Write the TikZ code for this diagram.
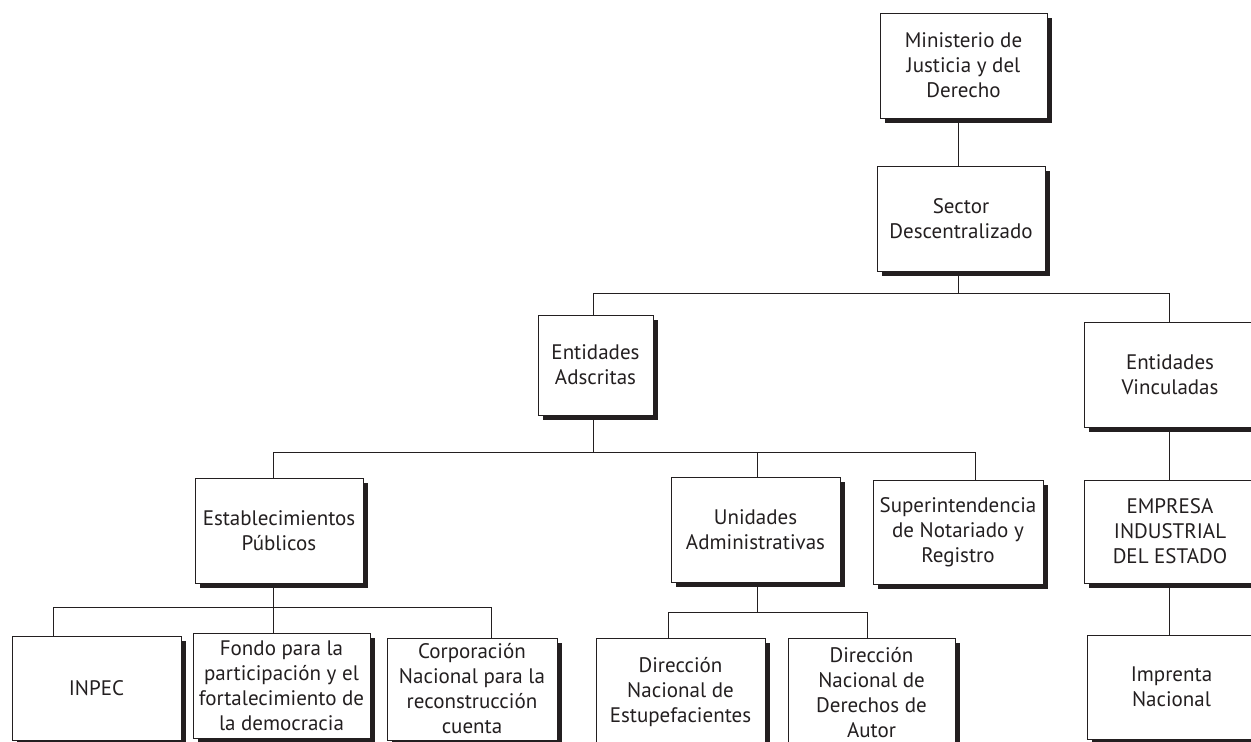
\documentclass[tikz,border=0pt]{standalone}
\usepackage{fontspec}
\setmainfont{PT Sans}
\usetikzlibrary{shadows,backgrounds}
\definecolor{ink}{HTML}{231F20}
\begin{document}
\begin{tikzpicture}[x=1pt,y=-1pt,
  box/.style={draw=ink, line width=0.9pt, fill=white, inner sep=0pt, align=center,
    font=\fontsize{21}{25}\selectfont, text=ink,
    drop shadow={shadow xshift=5pt, shadow yshift=-5pt, fill=ink, opacity=1}},
  conn/.style={draw=ink, line width=0.9pt}]
\useasboundingbox (0,0) rectangle (1251,742);
\clip (0,0) rectangle (1251,742);
\node[box, minimum width=167pt, minimum height=105pt] (min) at (963.5,65.5) {Ministerio de\\Justicia y del\\Derecho};
\node[box, minimum width=168pt, minimum height=105pt] (sec) at (961,218.5) {Sector\\Descentralizado};
\node[box, minimum width=115pt, minimum height=100pt] (ads) at (595.5,365) {Entidades\\Adscritas};
\node[box, minimum width=172pt, minimum height=105pt] (vin) at (1170,374.5) {Entidades\\Vinculadas};
\node[box, minimum width=168pt, minimum height=105pt] (est) at (279,530.5) {Establecimientos\\Públicos};
\node[box, minimum width=169pt, minimum height=105pt] (una) at (755.5,529.5) {Unidades\\Administrativas};
\node[box, minimum width=170pt, minimum height=104pt] (sup) at (958,532) {Superintendencia\\de Notariado y\\Registro};
\node[box, minimum width=172pt, minimum height=103pt] (emp) at (1170,531.5) {EMPRESA\\INDUSTRIAL\\DEL ESTADO};
\node[box, minimum width=169pt, minimum height=104pt] (inpec) at (96.5,688) {INPEC};
\node[box, minimum width=177pt, minimum height=105pt] (fondo) at (281.5,685.5) {Fondo para la\\participación y el\\fortalecimiento de\\la democracia};
\node[box, minimum width=170pt, minimum height=102pt] (corp) at (472,689) {Corporación\\Nacional para la\\reconstrucción\\cuenta};
\node[box, minimum width=169pt, minimum height=108pt] (estu) at (680.5,692) {Dirección\\Nacional de\\Estupefacientes};
\node[box, minimum width=167pt, minimum height=110pt] (der) at (871.5,693) {Dirección\\Nacional de\\Derechos de\\Autor};
\node[box, minimum width=169pt, minimum height=104pt] (imp) at (1171.5,687) {Imprenta\\Nacional};
\begin{scope}[on background layer]
\draw[conn] ([xshift=-5.5pt]min.south) -- ([xshift=-3pt]sec.north);
\draw[conn] ([xshift=-3pt]sec.south) -- ++(0,22) coordinate (b1);
\draw[conn] (b1) -| ([xshift=-2.5pt]ads.north);
\draw[conn] (b1) -| ([xshift=-1pt]vin.north);
\draw[conn] ([xshift=-2.5pt]ads.south) -- ++(0,37) coordinate (b2);
\draw[conn] (b2) -| ([xshift=-6pt]est.north);
\draw[conn] (b2) -| ([xshift=1.5pt]una.north);
\draw[conn] (b2) -| ([xshift=17pt]sup.north);
\draw[conn] ([xshift=-1pt]vin.south) -- ([xshift=-1pt]emp.north);
\draw[conn] ([xshift=-6pt]est.south) -- ++(0,24) coordinate (b3);
\draw[conn] (b3) -| ([xshift=-43.5pt]inpec.north);
\draw[conn] (b3) -| ([xshift=-8.5pt]fondo.north);
\draw[conn] (b3) -| ([xshift=19pt]corp.north);
\draw[conn] ([xshift=1.5pt]una.south) -- ++(0,30) coordinate (b4);
\draw[conn] (b4) -| ([xshift=-12.5pt]estu.north);
\draw[conn] (b4) -| ([xshift=-4.5pt]der.north);
\draw[conn] ([xshift=-1pt]emp.south) -- ([xshift=-2.5pt]imp.north);
\end{scope}
\end{tikzpicture}
\end{document}
